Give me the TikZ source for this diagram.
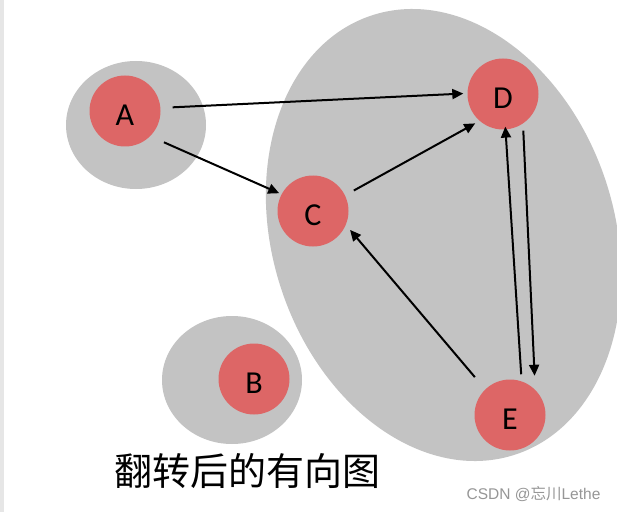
\documentclass[tikz,border=0pt]{standalone}
\usepackage{fontspec}
\setmainfont{Carlito}
\newfontfamily\cjk{Noto Sans CJK SC}
\newfontfamily\wmfont{Liberation Sans}
\usetikzlibrary{arrows.meta}
\definecolor{blobgray}{RGB}{195,195,195}
\definecolor{nodered}{RGB}{221,102,102}
\definecolor{wmgray}{RGB}{150,150,150}
\definecolor{edgegray}{RGB}{230,230,230}
\tikzset{
  vtx/.style={circle, fill=nodered, minimum size=71pt, inner sep=0pt, text height=28.6pt, text depth=0pt, font=\fontsize{32}{32}\selectfont},
  arr/.style={line width=2pt, -{Triangle[length=11pt,width=10pt]}},
}
\begin{document}
\begin{tikzpicture}[x=1pt,y=1pt]
\useasboundingbox (0,0) rectangle (617,512);
\clip (0,0) rectangle (617,512);
\fill[white] (0,0) rectangle (617,512);
\fill[edgegray] (0,0) rectangle (3.5,512);
% grey groups
\fill[blobgray] (136,387) ellipse [x radius=70, y radius=64];
\fill[blobgray] (232,132) ellipse [x radius=70, y radius=64];
\fill[blobgray, rotate around={-72:(443.5,277)}] (443.5,277) ellipse [x radius=231, y radius=171];
% vertices
\node[vtx] (A) at (125,401) {A};
\node[vtx] (D) at (503,418) {D};
\node[vtx] (C) at (313,301) {C};
\node[vtx] (B) at (254,133) {B};
\node[vtx] (E) at (510,97) {E};
% edges
\draw[arr, shorten <=12pt, shorten >=4pt] (A.5) -- (D.179);
\draw[arr, shorten <=15pt, shorten >=2.5pt] (A.-45) -- (C.152);
\draw[arr, shorten <=10pt, shorten >=5pt] (C.26) -- (D.229);
\draw[arr, shorten <=16pt, shorten >=6.5pt] (E.134) -- (C.-23.5);
\draw[arr, shorten <=7pt, shorten >=-3pt] (E.71) -- (D.-86);
\draw[arr, shorten <=7pt, shorten >=14pt] (D.-56) -- (E.45);
% captions
\node[font=\cjk\fontsize{38}{38}\selectfont] (cap) at (247,41) {翻转后的有向图};
\node[text=wmgray, font=\wmfont\fontsize{15.5}{15.5}\selectfont] (wm) at (533.5,18) {CSDN @{\cjk 忘川}Lethe};
\end{tikzpicture}
\end{document}
